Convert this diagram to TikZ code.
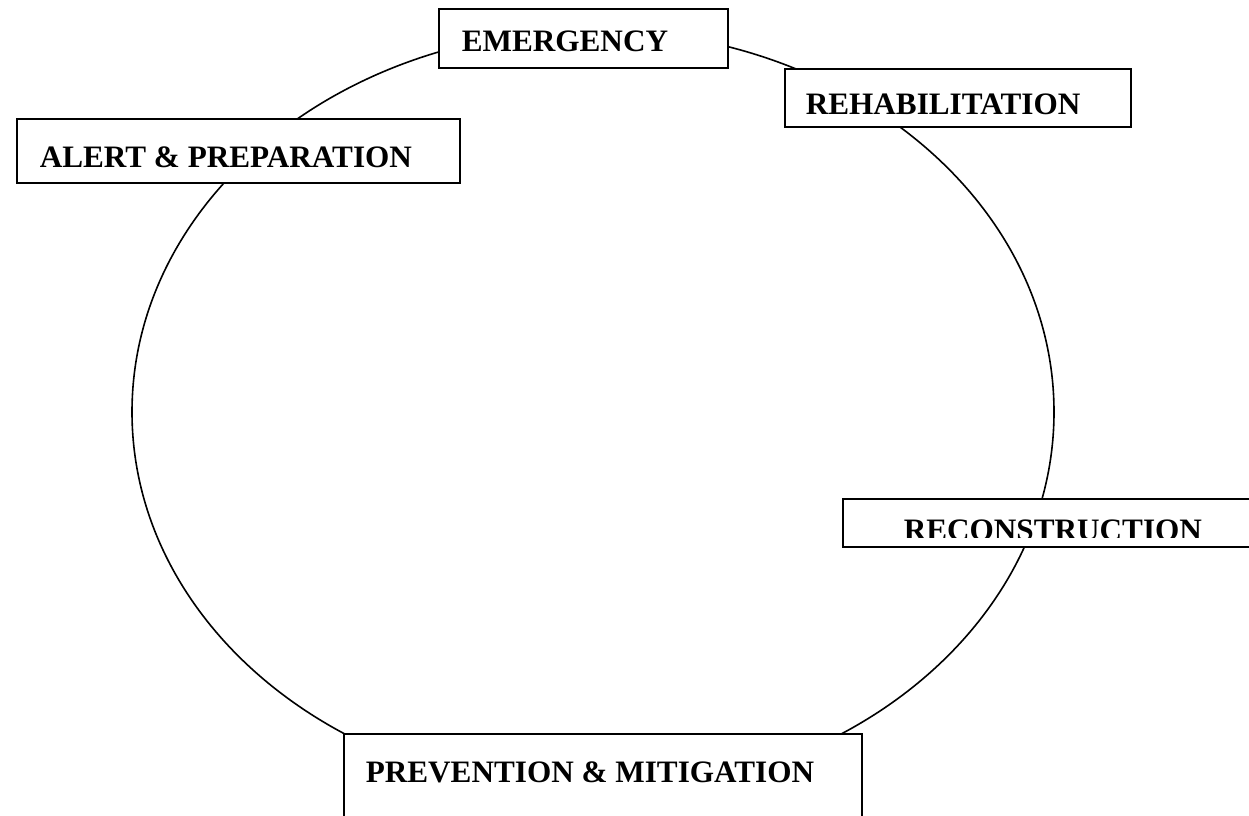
\documentclass[tikz,border=0pt]{standalone}
\usepackage{fontspec}
\setmainfont{Liberation Serif}
\usetikzlibrary{fit}
\begin{document}
\begin{tikzpicture}[x=0.75pt,y=-0.75pt, line width=1.2pt,
  box/.style={draw, fill=white, inner sep=0pt, outer sep=0pt},
  lbl/.style={anchor=base west, inner sep=0pt, font=\fontsize{23.4}{28}\selectfont\bfseries}]
\useasboundingbox (0,0) rectangle (1249,815);
\clip (0,0) rectangle (1249,815);
\draw (593,412) ellipse [x radius=461, y radius=382];
% boxes
\node[box, fit={(439,9) (728,68)}] (emergbox) {};
\node[box, fit={(785,69) (1131,127)}] (rehabbox) {};
\node[box, fit={(17,119) (460,183)}] (alertbox) {};
\node[box, fit={(843,499) (1275,547)}] (reconbox) {};
\node[box, fit={(344,734) (862,840)}] (prevbox) {};
% labels
\node[lbl] (emerg) at (461,51) {EMERGENCY};
\node[lbl] (rehab) at (805,114) {REHABILITATION};
\node[lbl] (alert) at (39,167) {ALERT \& PREPARATION};
\begin{scope}
\clip (845,501) rectangle (1249,537);
\node[lbl] (recon) at (903,540) {RECONSTRUCTION};
\end{scope}
\node[lbl] (prev) at (365,782) {PREVENTION \& MITIGATION};
\end{tikzpicture}
\end{document}
